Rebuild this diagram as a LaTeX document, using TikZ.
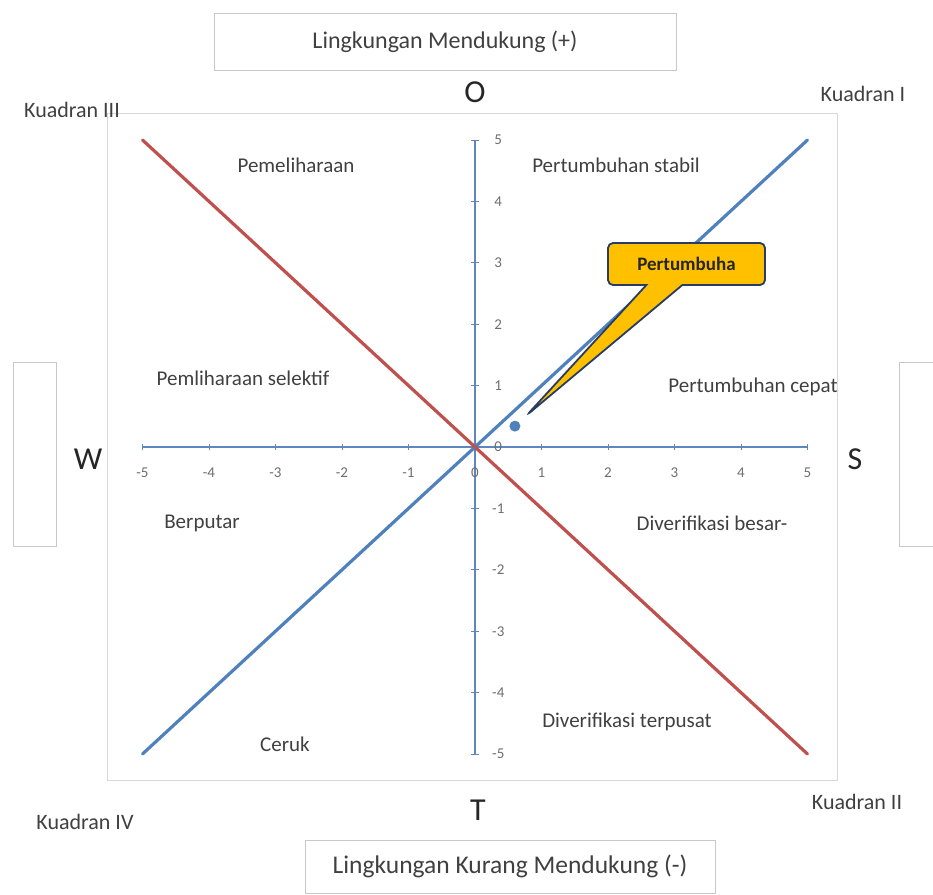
\documentclass[tikz,border=0pt]{standalone}
\usepackage{fontspec}
\setmainfont{Carlito}
\usetikzlibrary{shapes.callouts}
\definecolor{axisblue}{RGB}{95,135,190}
\definecolor{lineblue}{RGB}{79,129,189}
\definecolor{linered}{RGB}{192,80,77}
\definecolor{labgray}{RGB}{64,64,64}
\definecolor{tickgray}{RGB}{110,110,110}
\definecolor{framegray}{RGB}{200,200,200}
\definecolor{calloutfill}{RGB}{255,192,0}
\definecolor{calloutedge}{RGB}{40,60,100}

\begin{document}
\begin{tikzpicture}[x=1pt,y=-1pt,
	box/.style={draw=framegray,line width=1pt,text=labgray,inner sep=0pt},
	quad/.style={text=labgray,font=\fontsize{21}{24}\selectfont},
	kuad/.style={text=labgray,font=\fontsize{22}{24}\selectfont},
	arah/.style={text=black!85,font=\fontsize{32}{36}\selectfont},
	ticklab/.style={text=tickgray,font=\fontsize{15}{17}\selectfont},
	garis/.style={line width=3.2pt,line cap=round}]
\useasboundingbox (0,0) rectangle (933,894);
\draw[framegray!70,line width=1pt] (107,113) rectangle (837,780);

% kotak lingkungan
\node[box,minimum width=462,minimum height=57,font=\fontsize{24}{26}\selectfont] (atas) at (445,41.5) {Lingkungan Mendukung (+)};
\node[box,minimum width=410,minimum height=53,font=\fontsize{25.5}{28}\selectfont] (bawah) at (510,866.5) {Lingkungan Kurang Mendukung (-)};
\node[box,minimum width=43,minimum height=184] (kiri) at (34.5,454) {};
\node[box,minimum width=46,minimum height=184] (kanan) at (922,454) {};

% sumbu dan garis
\begin{scope}[shift={(475,447)},x=66.5pt,y=61.4pt]
\coordinate (xl) at (-5,0);
\coordinate (xr) at (5,0);
\coordinate (yb) at (0,-5);
\coordinate (yt) at (0,5);
\coordinate (bl) at (-5,-5);
\coordinate (tr) at (5,5);
\coordinate (tl) at (-5,5);
\coordinate (br) at (5,-5);
\coordinate (ujung) at (0.78,0.52);
\draw[axisblue,line width=1.2pt] (xl) -- (xr);
\draw[axisblue,line width=1.2pt] (yb) -- (yt);
\foreach \i in {-5,...,5} {
	\draw[axisblue,line width=0.8pt] (\i,0.05) -- (\i,-0.05);
	\draw[axisblue,line width=0.8pt] (-0.06,\i) -- (0.06,\i);
	\node[ticklab] at (\i,-0.42) {\i};
	\node[ticklab] at (0.35,\i) {\i};
}
\draw[lineblue,garis] (bl) -- (tr);
\draw[linered,garis] (tl) -- (br);
\node[circle,fill=lineblue,inner sep=0pt,minimum size=11pt] (titik) at (0.6,0.34) {};
\end{scope}

\node[rectangle callout,callout absolute pointer={(ujung)},callout pointer width=36pt,
	rounded corners=5pt,draw=calloutedge,line width=1.8pt,fill=calloutfill,
	minimum width=157,minimum height=42,inner sep=0pt,
	font=\bfseries\fontsize{19}{21}\selectfont,text=black!85] (info) at (686.5,264) {Pertumbuha};

% label kuadran
\node[quad] (q1) at (296,165) {Pemeliharaan};
\node[quad] (q2) at (616,165) {Pertumbuhan stabil};
\node[quad] (q3) at (243,378) {Pemliharaan selektif};
\node[quad] (q4) at (753,387) {Pertumbuhan cepat};
\node[quad] (q5) at (202,523) {Berputar};
\node[quad] (q6) at (712,523) {Diverifikasi besar-};
\node[quad] (q7) at (627,722) {Diverifikasi terpusat};
\node[quad] (q8) at (285,744) {Ceruk};

\node[kuad] (k3) at (72,110) {Kuadran III};
\node[kuad] (k1) at (863,94) {Kuadran I};
\node[kuad] (k4) at (85,822) {Kuadran IV};
\node[kuad] (k2) at (857,802) {Kuadran II};

\node[arah] (o) at (475,92) {O};
\node[arah] (t) at (478,810) {T};
\node[arah] (w) at (88,459) {W};
\node[arah] (s) at (855,459) {S};
\end{tikzpicture}
\end{document}
